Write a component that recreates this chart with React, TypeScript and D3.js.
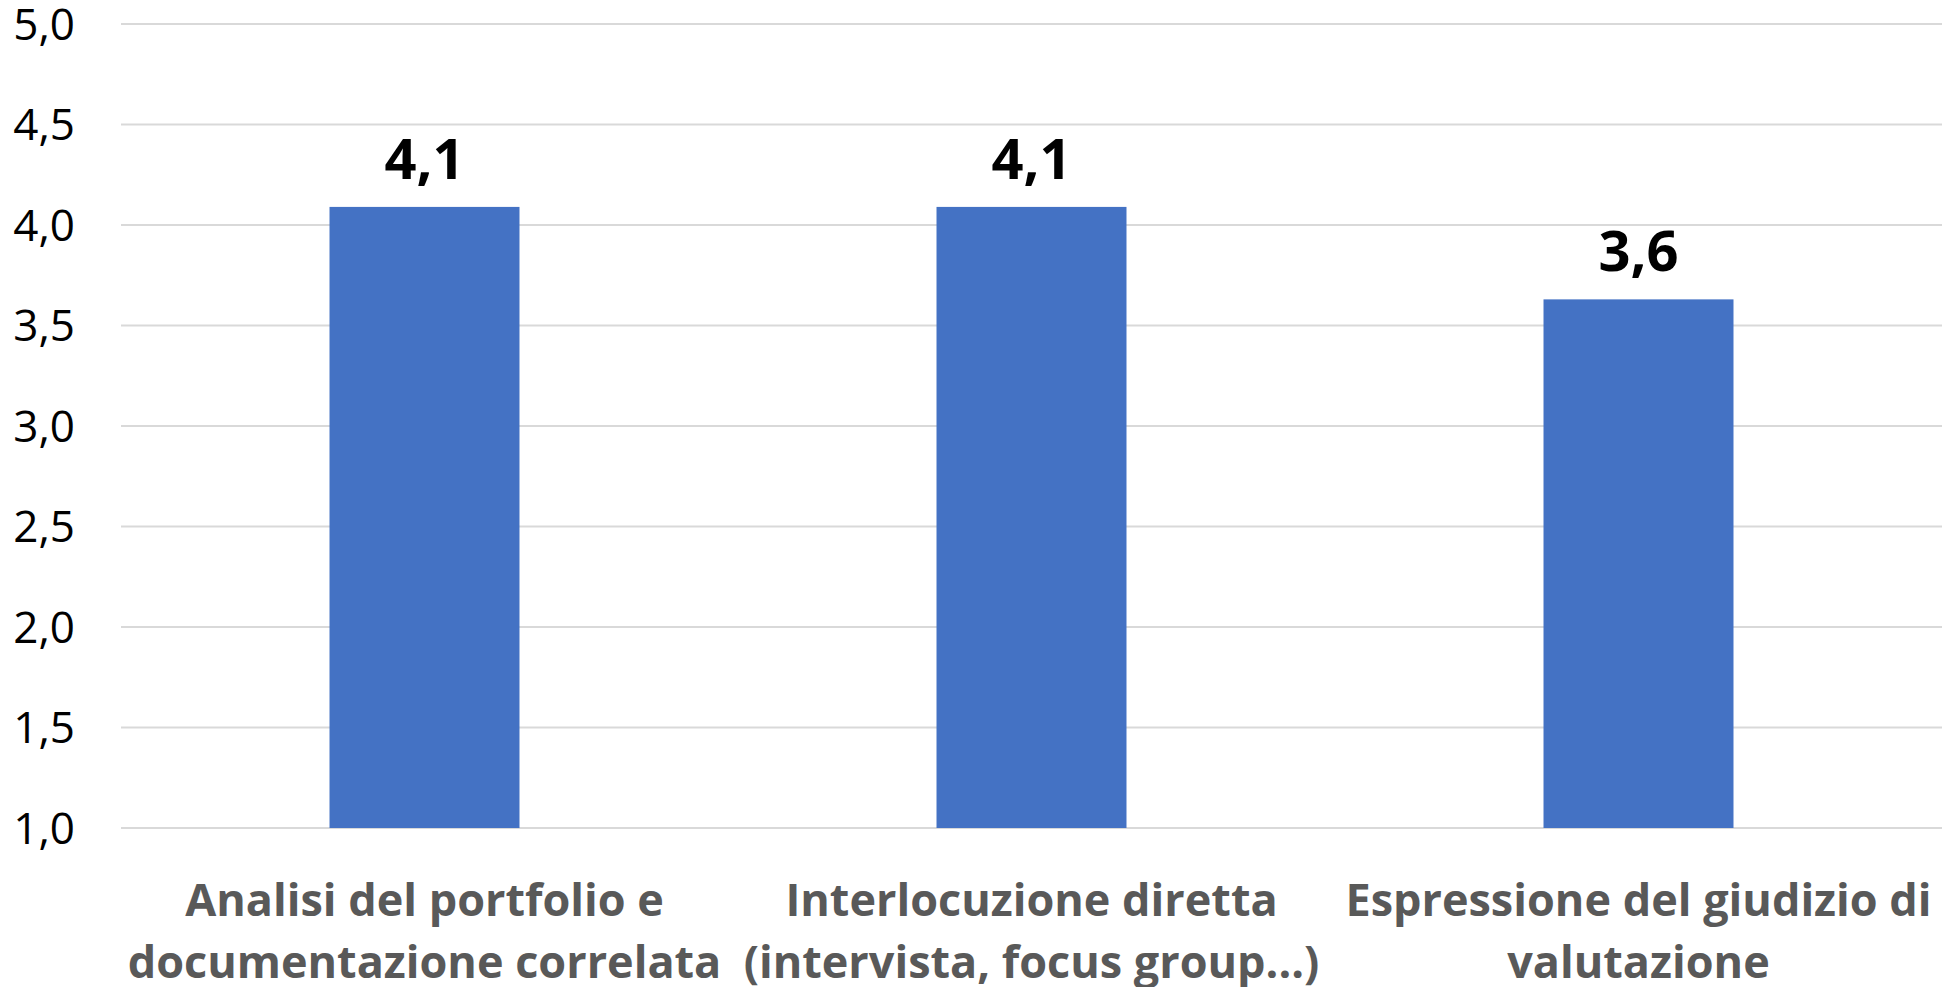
import { useEffect, useRef } from "react"
import * as d3 from "d3"

// Chart data
const categories = [
  ["Analisi del portfolio e", "documentazione correlata"],
  ["Interlocuzione diretta", "(intervista, focus group...)"],
  ["Espressione del giudizio di", "valutazione"],
]
const values = [4.09, 4.09, 3.63]
const yTicks = [1, 1.5, 2, 2.5, 3, 3.5, 4, 4.5, 5]

const W = 1954
const H = 987
const FONT = "'Open Sans', 'Noto Sans', sans-serif"

export default function App() {
  const svgRef = useRef<SVGSVGElement>(null)

  useEffect(() => {
    if (!svgRef.current) return
    document.body.style.margin = "0"

    const svg = d3.select(svgRef.current)
    svg.selectAll("*").remove()

    const plot = { left: 121, right: 1942, top: 24, bottom: 828 }

    const x = d3
      .scaleBand<number>()
      .domain(d3.range(values.length))
      .range([plot.left, plot.right])
      .paddingInner(0.687)
      .paddingOuter(0.3435)

    const y = d3.scaleLinear().domain([1, 5]).range([plot.bottom, plot.top])

    const fmt = (v: number) => d3.format(".1f")(v).replace(".", ",")

    // grid lines
    svg
      .append("g")
      .selectAll("line")
      .data(yTicks)
      .enter()
      .append("line")
      .attr("x1", plot.left)
      .attr("x2", plot.right)
      .attr("y1", (d) => y(d))
      .attr("y2", (d) => y(d))
      .attr("stroke", "#d9d9d9")
      .attr("stroke-width", 2)

    // y tick labels
    svg
      .append("g")
      .selectAll("text")
      .data(yTicks)
      .enter()
      .append("text")
      .attr("x", 75)
      .attr("y", (d) => y(d))
      .attr("dy", "0.36em")
      .attr("text-anchor", "end")
      .attr("font-family", FONT)
      .attr("font-size", 44)
      .attr("fill", "#000")
      .text((d) => fmt(d))

    // bars
    svg
      .append("g")
      .selectAll("rect")
      .data(values)
      .enter()
      .append("rect")
      .attr("x", (_, i) => x(i) || 0)
      .attr("width", x.bandwidth())
      .attr("y", (d) => y(d))
      .attr("height", (d) => y(1) - y(d))
      .attr("fill", "#4472c4")

    // value labels
    svg
      .append("g")
      .selectAll("text")
      .data(values)
      .enter()
      .append("text")
      .attr("x", (_, i) => (x(i) || 0) + x.bandwidth() / 2)
      .attr("y", (d) => y(d) - 28)
      .attr("text-anchor", "middle")
      .attr("font-family", FONT)
      .attr("font-weight", "bold")
      .attr("font-size", 56)
      .attr("fill", "#000")
      .text((d) => fmt(d))

    // category labels
    const cat = svg
      .append("g")
      .selectAll("text")
      .data(categories)
      .enter()
      .append("text")
      .attr("text-anchor", "middle")
      .attr("font-family", FONT)
      .attr("font-weight", "bold")
      .attr("font-size", 45)
      .attr("fill", "#595959")

    cat
      .selectAll("tspan")
      .data((d, i) => d.map((line) => ({ line, i })))
      .enter()
      .append("tspan")
      .attr("x", (d) => (x(d.i) || 0) + x.bandwidth() / 2)
      .attr("y", (_, j) => 916 + j * 62)
      .text((d) => d.line)
  }, [])

  return <svg ref={svgRef} width={W} height={H} style={{ display: "block", background: "#fff" }} />
}
